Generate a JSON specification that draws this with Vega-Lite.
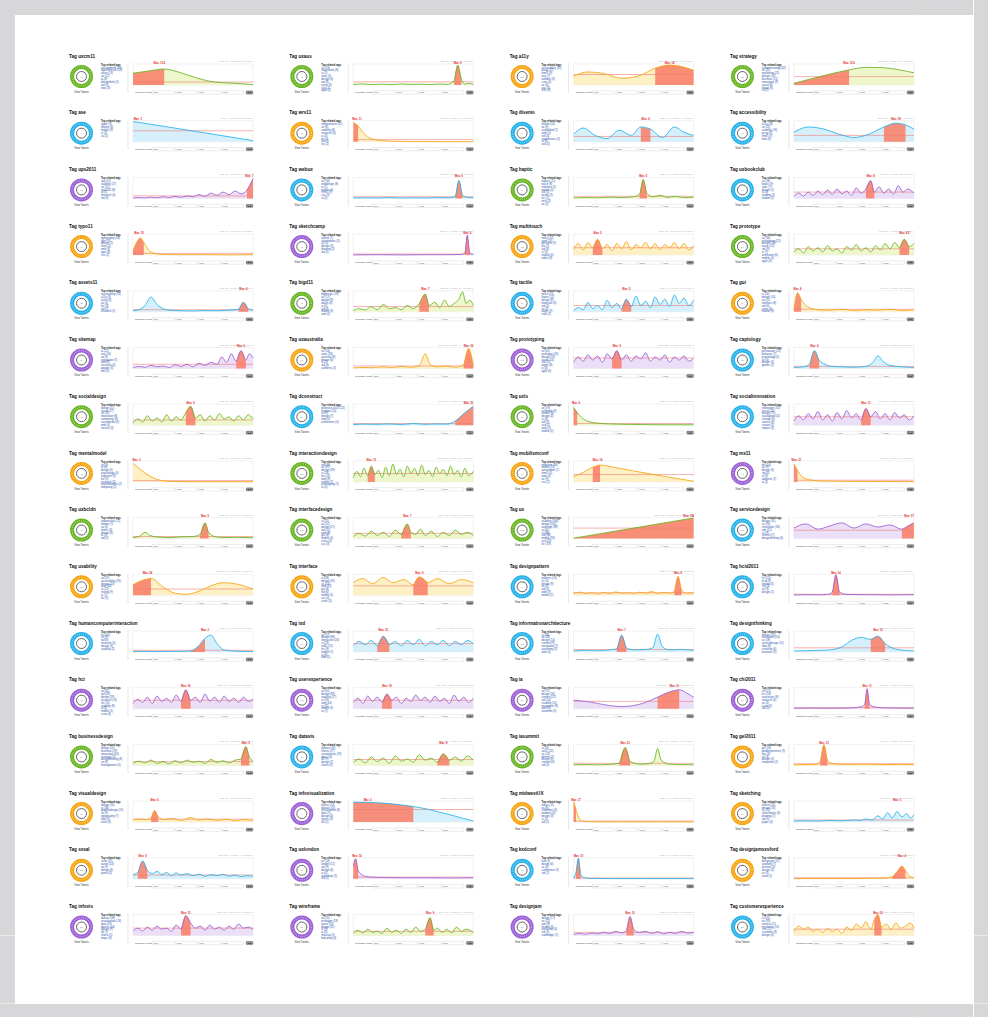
{
"$schema":"https://vega.github.io/schema/vega-lite/v6.json",
"padding":0,
"background":"white",
"config":{"view":{"stroke":null},"concat":{"spacing":0},"font":"Liberation Sans",
 "header":{"labels":false,"title":null,"labelExpr":"''","labelFontSize":0,"labelColor":"rgba(0,0,0,0)","labelPadding":0,"titlePadding":0},
 "headerFacet":{"labels":false,"title":null,"labelExpr":"''","labelFontSize":0,"labelColor":"rgba(0,0,0,0)","labelPadding":0,"titlePadding":0}},
"data":{"name":"one"},
"datasets":{
"one":[{}],
"tags":[
{"t":0,"tag":"uxcm11","d":"g","k":"g","hs":0,"he":26,"px":22,"mx":10.5,"av":14,"tot":63,"rel":["uxcampmelb (26)","hypotheticals (13)","uxcm (13)","ux (12)","ia (8)","designthink (5)","ixd (3)","lean (3)"]},
{"t":1,"tag":"uxaus","d":"g","k":"g","hs":84,"he":90,"px":87,"mx":9,"av":15,"tot":48,"rel":["ux (23)","uxaustralia (8)","ia (5)","uxau (4)","design (4)","ixd (3)","uxcm (3)","ucd (2)","agile (2)"]},
{"t":2,"tag":"a11y","d":"o","k":"o","hs":68,"he":100,"px":80,"mx":14,"av":50,"tot":212,"rel":["accessibility (33)","wcag (12)","html5 (9)","aria (7)","webdev (6)","csun (5)","ux (4)","axs (3)","w3c (3)"]},
{"t":3,"tag":"strategy","d":"g","k":"g","hs":0,"he":46,"px":46,"mx":12.6,"av":40,"tot":388,"rel":["contentstrategy (42)","ux (31)","marketing (22)","design (14)","business (11)","innovation (9)","social (8)","digital (6)","cx (5)"]},
{"t":4,"tag":"ase","d":"b","k":"b","hs":0,"he":0,"px":4,"mx":3,"av":52,"tot":9,"rel":["apple (9)","iphone (4)","mobile (3)","ui (3)","ux (2)"]},
{"t":5,"tag":"wrv11","d":"o","k":"o","hs":0,"he":4,"px":3,"mx":11,"av":10,"tot":27,"rel":["webresearch (12)","ux (8)","usability (6)","research (4)","ia (3)","wr (2)","ixd (2)","hci (2)"]},
{"t":6,"tag":"disenio","d":"b","k":"b","hs":56,"he":64,"px":60,"mx":4,"av":25,"tot":41,"rel":["diseño (14)","ux (9)","usabilidad (7)","web (5)","ixd (4)","arquitectura (3)","ia (3)","ucd (2)"]},
{"t":7,"tag":"accessibility","d":"b","k":"b","hs":75,"he":93,"px":85,"mx":18,"av":30,"tot":402,"rel":["a11y (34)","ux (22)","usability (18)","wcag (9)","html5 (7)","web (6)"]},
{"t":8,"tag":"ups2011","d":"p","k":"p","hs":95,"he":100,"px":97,"mx":7,"av":12,"tot":88,"rel":["upa (21)","usability (17)","ux (12)","upa2011 (8)","ia (5)","research (4)","ixd (3)"]},
{"t":9,"tag":"webux","d":"b","k":"b","hs":85,"he":91,"px":88,"mx":6,"av":8,"tot":31,"rel":["ux (16)","webdesign (8)","ia (5)","mobile (4)","html5 (3)","css (3)","ui (2)"]},
{"t":10,"tag":"haptic","d":"g","k":"g","hs":55,"he":61,"px":58,"mx":5,"av":10,"tot":36,"rel":["haptics (11)","touch (8)","interface (5)","mobile (4)","ixd (3)","tactile (3)","hci (2)","tech (2)","ux (2)"]},
{"t":11,"tag":"uxbookclub","d":"b","k":"p","hs":60,"he":67,"px":64,"mx":8,"av":30,"tot":96,"rel":["ux (28)","books (9)","uxbc (7)","design (5)","ia (4)","reading (3)","london (2)"]},
{"t":12,"tag":"typo11","d":"o","k":"o","hs":0,"he":9,"px":5,"mx":15,"av":8,"tot":54,"rel":["typography (18)","type (9)","design (7)","fonts (5)","web (3)","typo (3)","css (2)"]},
{"t":13,"tag":"sketchcamp","d":"p","k":"p","hs":93,"he":97,"px":95,"mx":6,"av":5,"tot":19,"rel":["sketch (7)","sketchnotes (5)","ux (4)","design (3)","drawing (2)","ixd (2)"]},
{"t":14,"tag":"multitouch","d":"o","k":"o","hs":16,"he":24,"px":20,"mx":5,"av":35,"tot":118,"rel":["touch (22)","ipad (14)","gestures (9)","nui (7)","ixd (6)","ui (5)","mobile (4)","tablet (3)"]},
{"t":15,"tag":"prototype","d":"g","k":"g","hs":88,"he":96,"px":92,"mx":9.5,"av":30,"tot":204,"rel":["ux (34)","prototyping (22)","design (18)","axure (12)","ixd (9)","ui (7)","wireframe (6)","mobile (4)","agile (3)"]},
{"t":16,"tag":"assets11","d":"b","k":"b","hs":88,"he":96,"px":92,"mx":4,"av":10,"tot":22,"rel":["accessibility (14)","a11y (9)","asset (6)","ux (4)","hci (3)","ixd (2)","research (2)"]},
{"t":17,"tag":"bigd11","d":"g","k":"g","hs":55,"he":63,"px":60,"mx":7,"av":25,"tot":73,"rel":["bigdesign (19)","ux (12)","design (9)","dallas (6)","ia (4)","ixd (3)","mobile (3)","web (2)"]},
{"t":18,"tag":"tactile","d":"b","k":"b","hs":40,"he":48,"px":44,"mx":5,"av":30,"tot":61,"rel":["touch (15)","haptic (11)","design (8)","materials (6)","ixd (5)","ux (4)","paper (3)","craft (2)"]},
{"t":19,"tag":"gui","d":"o","k":"o","hs":0,"he":6,"px":3,"mx":8,"av":12,"tot":84,"rel":["ui (26)","design (14)","ux (11)","interface (8)","ixd (6)","icons (4)","mobile (3)"]},
{"t":20,"tag":"sitemap","d":"p","k":"p","hs":86,"he":94,"px":90,"mx":6,"av":20,"tot":57,"rel":["ia (22)","seo (14)","ux (9)","navigation (7)","web (5)","structure (4)","google (3)","xml (2)"]},
{"t":21,"tag":"uxaustralia","d":"o","k":"o","hs":92,"he":100,"px":96,"mx":19,"av":12,"tot":146,"rel":["ux (24)","uxau (18)","australia (8)","design (6)","ia (5)","ixd (4)","canberra (3)"]},
{"t":22,"tag":"prototyping","d":"p","k":"p","hs":32,"he":40,"px":36,"mx":9,"av":50,"tot":233,"rel":["ux (41)","prototype (26)","design (19)","axure (14)","ixd (11)","paper (8)","ui (6)","agile (5)"]},
{"t":23,"tag":"captology","d":"b","k":"b","hs":13,"he":21,"px":17,"mx":4,"av":10,"tot":25,"rel":["persuasion (12)","behavior (7)","psychology (5)","ux (4)","design (3)","games (2)"]},
{"t":24,"tag":"socialdesign","d":"g","k":"g","hs":44,"he":52,"px":48,"mx":6,"av":25,"tot":92,"rel":["design (21)","social (17)","ux (11)","innovation (8)","community (6)","socialmedia (5)","web (4)","service (3)"]},
{"t":25,"tag":"dconstruct","d":"b","k":"b","hs":85,"he":100,"px":96,"mx":22,"av":8,"tot":154,"rel":["dconstruct2011 (22)","brighton (14)","ux (9)","design (7)","web (5)","conference (4)"]},
{"t":26,"tag":"uxls","d":"g","k":"g","hs":0,"he":3,"px":2,"mx":9,"av":8,"tot":38,"rel":["ux (19)","uxlondon (9)","london (6)","design (4)","ia (3)","ixd (3)","ucd (2)","web (2)","mobile (2)"]},
{"t":27,"tag":"socialinnovation","d":"b","k":"p","hs":56,"he":64,"px":60,"mx":11,"av":40,"tot":264,"rel":["innovation (31)","social (24)","design (17)","socialgood (12)","change (8)","service (6)","socent (5)","impact (4)"]},
{"t":28,"tag":"mentalmodel","d":"o","k":"o","hs":0,"he":0,"px":3,"mx":3,"av":6,"tot":12,"rel":["ux (9)","ia (6)","design (5)","psychology (4)","cognition (3)","hci (3)","research (3)","mentalmodels (2)","indiyoung (2)"]},
{"t":29,"tag":"interactiondesign","d":"g","k":"g","hs":12,"he":18,"px":15,"mx":13,"av":40,"tot":512,"rel":["ixd (48)","ux (37)","design (29)","ui (18)","hci (12)","web (9)","mobile (7)","prototyping (5)","ia (4)"]},
{"t":30,"tag":"mobilismconf","d":"o","k":"o","hs":16,"he":22,"px":20,"mx":16,"av":35,"tot":77,"rel":["mobilism (18)","mobile (12)","amsterdam (7)","html5 (5)","web (4)","ux (3)","css (2)"]},
{"t":31,"tag":"mx11","d":"p","k":"o","hs":0,"he":3,"px":2,"mx":12,"av":8,"tot":41,"rel":["mx (14)","ux (9)","design (6)","ixd (4)","sf (3)","adaptive (2)","ia (2)"]},
{"t":32,"tag":"uxbcldn","d":"g","k":"g","hs":56,"he":63,"px":60,"mx":5,"av":10,"tot":29,"rel":["uxbookclub (12)","london (7)","ux (6)","books (4)","design (3)","ia (2)","ixd (2)"]},
{"t":33,"tag":"interfacedesign","d":"g","k":"g","hs":40,"he":48,"px":45,"mx":7,"av":25,"tot":143,"rel":["ui (25)","ux (21)","design (17)","ixd (11)","web (8)","gui (6)","mobile (5)","icons (4)","css (3)"]},
{"t":34,"tag":"ux","d":"g","k":"g","hs":0,"he":100,"px":96,"mx":186,"av":50,"tot":4210,"rel":["usability (186)","design (142)","uxdesign (89)","ia (61)","ui (48)","ixd (38)","mobile (32)","ucd (25)","hci (19)"]},
{"t":35,"tag":"servicedesign","d":"b","k":"p","hs":90,"he":100,"px":96,"mx":17,"av":40,"tot":377,"rel":["design (31)","ux (24)","innovation (18)","sdn (12)","cx (9)","service (7)","designthinking (6)"]},
{"t":36,"tag":"usability","d":"o","k":"o","hs":0,"he":15,"px":12,"mx":24,"av":30,"tot":866,"rel":["ux (67)","accessibility (31)","design (24)","web (18)","ui (12)","testing (9)","ia (7)","hci (5)"]},
{"t":37,"tag":"interface","d":"o","k":"o","hs":50,"he":62,"px":55,"mx":9,"av":45,"tot":198,"rel":["ui (28)","design (19)","ux (14)","web (11)","gui (8)","ixd (6)","mobile (5)","css (4)","icons (3)"]},
{"t":38,"tag":"designpattern","d":"b","k":"o","hs":84,"he":90,"px":87,"mx":8,"av":12,"tot":64,"rel":["patterns (16)","ui (11)","design (9)","ux (7)","ixd (5)","web (3)","mobile (2)"]},
{"t":39,"tag":"hcid2011","d":"b","k":"p","hs":32,"he":38,"px":35,"mx":14,"av":5,"tot":33,"rel":["hci (11)","hcid (8)","london (5)","city (4)","ux (3)","design (2)"]},
{"t":40,"tag":"humancomputerinteraction","d":"b","k":"b","hs":48,"he":60,"px":60,"mx":3,"av":8,"tot":14,"rel":["hci (14)","ux (9)","ixd (6)","research (4)","design (3)","usability (2)"]},
{"t":41,"tag":"ixd","d":"b","k":"b","hs":20,"he":30,"px":25,"mx":15,"av":40,"tot":640,"rel":["ux (57)","design (38)","interaction (24)","ui (19)","ixd11 (12)","hci (9)","mobile (7)","ia (6)","web (5)"]},
{"t":42,"tag":"informationarchitecture","d":"b","k":"b","hs":36,"he":44,"px":40,"mx":7,"av":12,"tot":102,"rel":["ia (36)","ux (28)","design (14)","content (9)","navigation (7)","taxonomy (5)","web (4)"]},
{"t":43,"tag":"designthinking","d":"b","k":"b","hs":64,"he":76,"px":70,"mx":12,"av":20,"tot":241,"rel":["design (33)","innovation (24)","ux (18)","servicedesign (11)","ideo (8)","creativity (6)","business (5)"]},
{"t":44,"tag":"hci","d":"p","k":"p","hs":40,"he":48,"px":44,"mx":16,"av":40,"tot":498,"rel":["ux (42)","ixd (28)","design (19)","research (14)","chi (11)","usability (8)","ui (6)","mobile (5)","cscw (4)"]},
{"t":45,"tag":"userexperience","d":"p","k":"p","hs":24,"he":32,"px":28,"mx":18,"av":40,"tot":702,"rel":["ux (61)","design (39)","usability (27)","ia (19)","web (14)","ui (11)","mobile (9)","cx (7)"]},
{"t":46,"tag":"ia","d":"p","k":"p","hs":70,"he":88,"px":84,"mx":21,"av":35,"tot":913,"rel":["ux (72)","design (34)","content (21)","ixd (14)","usability (11)","navigation (8)","web (6)","iasummit (5)"]},
{"t":47,"tag":"chi2011","d":"p","k":"p","hs":59,"he":63,"px":61,"mx":11,"av":5,"tot":57,"rel":["chi (21)","hci (16)","vancouver (8)","research (6)","ux (4)","cscw (3)","ixd (2)"]},
{"t":48,"tag":"businessdesign","d":"g","k":"g","hs":90,"he":97,"px":94,"mx":6,"av":18,"tot":71,"rel":["design (23)","business (19)","innovation (14)","strategy (11)","designthinking (8)","ux (6)","management (5)"]},
{"t":49,"tag":"datavis","d":"b","k":"g","hs":70,"he":80,"px":75,"mx":8,"av":28,"tot":186,"rel":["dataviz (34)","infovis (27)","visualization (19)","data (14)","d3 (9)","design (7)","charts (5)"]},
{"t":50,"tag":"iasummit","d":"g","k":"g","hs":38,"he":47,"px":43,"mx":21,"av":10,"tot":129,"rel":["ia (31)","ias11 (24)","ux (14)","denver (7)","design (5)","content (4)","ixd (3)"]},
{"t":51,"tag":"gel2011","d":"o","k":"o","hs":22,"he":28,"px":25,"mx":13,"av":8,"tot":46,"rel":["gel (18)","goodexperience (9)","nyc (6)","ux (4)","design (3)","innovation (2)"]},
{"t":52,"tag":"visualdesign","d":"o","k":"o","hs":15,"he":21,"px":18,"mx":6,"av":14,"tot":83,"rel":["design (26)","ui (18)","graphicdesign (12)","ux (9)","typography (7)","web (5)","color (4)"]},
{"t":53,"tag":"infovisualization","d":"p","k":"b","hs":0,"he":50,"px":12,"mx":2,"av":60,"tot":6,"rel":["infovis (14)","dataviz (11)","visualization (8)","data (5)","design (4)","charts (3)","d3 (2)"]},
{"t":54,"tag":"midwestUX","d":"o","k":"o","hs":0,"he":2,"px":2,"mx":17,"av":5,"tot":39,"rel":["mwux (11)","ux (8)","columbus (5)","midwest (4)","design (3)","ia (2)","ixd (2)"]},
{"t":55,"tag":"sketching","d":"o","k":"b","hs":0,"he":0,"px":86,"mx":5,"av":10,"tot":92,"rel":["sketch (24)","design (16)","ux (12)","sketchnotes (9)","drawing (7)","ixd (5)","paper (4)"]},
{"t":56,"tag":"sxsal","d":"o","k":"b","hs":4,"he":12,"px":8,"mx":9,"av":18,"tot":121,"rel":["sxsw (22)","austin (14)","ux (9)","design (6)","panel (4)"]},
{"t":57,"tag":"uxlondon","d":"p","k":"p","hs":0,"he":4,"px":3,"mx":14,"av":8,"tot":66,"rel":["ux (18)","london (12)","uxl (9)","design (6)","ia (4)","workshop (3)","ixd (2)"]},
{"t":58,"tag":"kxdconf","d":"b","k":"b","hs":2,"he":6,"px":4,"mx":10,"av":4,"tot":24,"rel":["kxd (9)","design (6)","ux (4)","conference (3)","ixd (2)"]},
{"t":59,"tag":"designjamsxsford","d":"o","k":"o","hs":82,"he":93,"px":90,"mx":4,"av":5,"tot":15,"rel":["designjam (11)","stanford (7)","dschool (5)","design (4)","ux (3)","sxsw (2)"]},
{"t":60,"tag":"infovis","d":"p","k":"p","hs":40,"he":48,"px":44,"mx":13,"av":35,"tot":318,"rel":["dataviz (38)","visualization (26)","data (19)","datavis (14)","design (9)","d3 (7)","charts (5)","maps (4)"]},
{"t":61,"tag":"wireframe","d":"p","k":"g","hs":60,"he":67,"px":64,"mx":9,"av":20,"tot":176,"rel":["ux (31)","prototype (19)","axure (14)","design (11)","ui (8)","ia (6)","mockup (5)","balsamiq (4)"]},
{"t":62,"tag":"designjam","d":"p","k":"p","hs":44,"he":50,"px":47,"mx":10,"av":15,"tot":58,"rel":["design (17)","ux (12)","jam (8)","london (6)","workshop (4)","ixd (3)","cambridge (2)"]},
{"t":63,"tag":"customerexperience","d":"b","k":"o","hs":67,"he":73,"px":70,"mx":12,"av":30,"tot":287,"rel":["cx (41)","ux (33)","service (21)","marketing (15)","crm (11)","customer (8)","design (6)"]}
],
"s":[
{"t":0,"x":0,"v":56},{"t":0,"x":12,"v":66},{"t":0,"x":26,"v":76},{"t":0,"x":40,"v":58},{"t":0,"x":55,"v":30},{"t":0,"x":68,"v":14},{"t":0,"x":85,"v":8},{"t":0,"x":100,"v":2},
{"t":1,"x":0,"v":3},{"t":1,"x":8,"v":5},{"t":1,"x":16,"v":2},{"t":1,"x":24,"v":4},{"t":1,"x":32,"v":2},{"t":1,"x":40,"v":5},{"t":1,"x":48,"v":3},{"t":1,"x":56,"v":4},{"t":1,"x":64,"v":2},{"t":1,"x":72,"v":5},{"t":1,"x":78,"v":3},{"t":1,"x":84,"v":20},{"t":1,"x":87,"v":95},{"t":1,"x":90,"v":30},{"t":1,"x":93,"v":4},{"t":1,"x":96,"v":8},{"t":1,"x":100,"v":3},
{"t":2,"x":0,"v":42},{"t":2,"x":12,"v":62},{"t":2,"x":25,"v":55},{"t":2,"x":40,"v":32},{"t":2,"x":55,"v":45},{"t":2,"x":68,"v":80},{"t":2,"x":80,"v":95},{"t":2,"x":90,"v":88},{"t":2,"x":100,"v":70},
{"t":3,"x":0,"v":8},{"t":3,"x":15,"v":30},{"t":3,"x":30,"v":52},{"t":3,"x":46,"v":72},{"t":3,"x":60,"v":84},{"t":3,"x":75,"v":82},{"t":3,"x":88,"v":72},{"t":3,"x":100,"v":58},
{"t":4,"x":0,"v":96},{"t":4,"x":25,"v":74},{"t":4,"x":50,"v":51},{"t":4,"x":75,"v":28},{"t":4,"x":100,"v":5},
{"t":5,"x":0,"v":92},{"t":5,"x":4,"v":75},{"t":5,"x":8,"v":45},{"t":5,"x":13,"v":20},{"t":5,"x":20,"v":8},{"t":5,"x":30,"v":3},{"t":5,"x":50,"v":1},{"t":5,"x":75,"v":0},{"t":5,"x":100,"v":0},
{"t":6,"x":0,"v":35},{"t":6,"x":8,"v":65},{"t":6,"x":18,"v":30},{"t":6,"x":28,"v":15},{"t":6,"x":38,"v":55},{"t":6,"x":48,"v":30},{"t":6,"x":56,"v":70},{"t":6,"x":64,"v":60},{"t":6,"x":74,"v":20},{"t":6,"x":84,"v":70},{"t":6,"x":92,"v":45},{"t":6,"x":100,"v":30},
{"t":7,"x":0,"v":45},{"t":7,"x":12,"v":70},{"t":7,"x":25,"v":60},{"t":7,"x":38,"v":35},{"t":7,"x":50,"v":20},{"t":7,"x":62,"v":35},{"t":7,"x":75,"v":70},{"t":7,"x":85,"v":88},{"t":7,"x":93,"v":80},{"t":7,"x":100,"v":60},
{"t":8,"x":0,"v":2},{"t":8,"x":5,"v":4},{"t":8,"x":10,"v":2},{"t":8,"x":15,"v":6},{"t":8,"x":20,"v":3},{"t":8,"x":25,"v":8},{"t":8,"x":30,"v":4},{"t":8,"x":35,"v":10},{"t":8,"x":40,"v":5},{"t":8,"x":45,"v":12},{"t":8,"x":50,"v":8},{"t":8,"x":55,"v":18},{"t":8,"x":60,"v":10},{"t":8,"x":65,"v":25},{"t":8,"x":70,"v":15},{"t":8,"x":75,"v":30},{"t":8,"x":80,"v":18},{"t":8,"x":85,"v":35},{"t":8,"x":90,"v":22},{"t":8,"x":95,"v":40},{"t":8,"x":100,"v":95},
{"t":9,"x":0,"v":2},{"t":9,"x":10,"v":3},{"t":9,"x":20,"v":2},{"t":9,"x":30,"v":4},{"t":9,"x":40,"v":2},{"t":9,"x":50,"v":3},{"t":9,"x":60,"v":2},{"t":9,"x":70,"v":4},{"t":9,"x":80,"v":3},{"t":9,"x":85,"v":10},{"t":9,"x":88,"v":85},{"t":9,"x":91,"v":15},{"t":9,"x":95,"v":5},{"t":9,"x":100,"v":3},
{"t":10,"x":0,"v":2},{"t":10,"x":10,"v":4},{"t":10,"x":20,"v":3},{"t":10,"x":30,"v":6},{"t":10,"x":40,"v":4},{"t":10,"x":50,"v":8},{"t":10,"x":55,"v":20},{"t":10,"x":58,"v":90},{"t":10,"x":61,"v":25},{"t":10,"x":66,"v":8},{"t":10,"x":72,"v":15},{"t":10,"x":78,"v":5},{"t":10,"x":85,"v":10},{"t":10,"x":92,"v":4},{"t":10,"x":100,"v":6},
{"t":11,"x":0,"v":10},{"t":11,"x":4,"v":25},{"t":11,"x":8,"v":12},{"t":11,"x":12,"v":30},{"t":11,"x":16,"v":15},{"t":11,"x":20,"v":35},{"t":11,"x":24,"v":18},{"t":11,"x":28,"v":40},{"t":11,"x":32,"v":20},{"t":11,"x":36,"v":45},{"t":11,"x":40,"v":22},{"t":11,"x":44,"v":35},{"t":11,"x":48,"v":15},{"t":11,"x":52,"v":50},{"t":11,"x":56,"v":25},{"t":11,"x":60,"v":45},{"t":11,"x":64,"v":85},{"t":11,"x":67,"v":30},{"t":11,"x":71,"v":55},{"t":11,"x":75,"v":25},{"t":11,"x":79,"v":45},{"t":11,"x":83,"v":20},{"t":11,"x":87,"v":60},{"t":11,"x":91,"v":30},{"t":11,"x":95,"v":45},{"t":11,"x":100,"v":25},
{"t":12,"x":0,"v":20},{"t":12,"x":3,"v":60},{"t":12,"x":6,"v":82},{"t":12,"x":9,"v":60},{"t":12,"x":13,"v":25},{"t":12,"x":18,"v":8},{"t":12,"x":25,"v":3},{"t":12,"x":40,"v":2},{"t":12,"x":60,"v":2},{"t":12,"x":80,"v":1},{"t":12,"x":100,"v":2},
{"t":13,"x":0,"v":1},{"t":13,"x":20,"v":2},{"t":13,"x":40,"v":1},{"t":13,"x":60,"v":2},{"t":13,"x":80,"v":2},{"t":13,"x":90,"v":3},{"t":13,"x":93,"v":10},{"t":13,"x":95,"v":95},{"t":13,"x":97,"v":10},{"t":13,"x":100,"v":3},
{"t":14,"x":0,"v":30},{"t":14,"x":4,"v":55},{"t":14,"x":8,"v":25},{"t":14,"x":12,"v":60},{"t":14,"x":16,"v":35},{"t":14,"x":20,"v":75},{"t":14,"x":24,"v":30},{"t":14,"x":28,"v":50},{"t":14,"x":32,"v":20},{"t":14,"x":36,"v":55},{"t":14,"x":40,"v":30},{"t":14,"x":44,"v":65},{"t":14,"x":48,"v":25},{"t":14,"x":52,"v":50},{"t":14,"x":56,"v":35},{"t":14,"x":60,"v":60},{"t":14,"x":64,"v":30},{"t":14,"x":68,"v":55},{"t":14,"x":72,"v":25},{"t":14,"x":76,"v":50},{"t":14,"x":80,"v":35},{"t":14,"x":84,"v":60},{"t":14,"x":88,"v":30},{"t":14,"x":92,"v":55},{"t":14,"x":96,"v":25},{"t":14,"x":100,"v":45},
{"t":15,"x":0,"v":15},{"t":15,"x":4,"v":30},{"t":15,"x":8,"v":10},{"t":15,"x":12,"v":40},{"t":15,"x":16,"v":20},{"t":15,"x":20,"v":35},{"t":15,"x":24,"v":15},{"t":15,"x":28,"v":45},{"t":15,"x":32,"v":20},{"t":15,"x":36,"v":30},{"t":15,"x":40,"v":10},{"t":15,"x":44,"v":40},{"t":15,"x":48,"v":25},{"t":15,"x":52,"v":50},{"t":15,"x":56,"v":20},{"t":15,"x":60,"v":35},{"t":15,"x":64,"v":15},{"t":15,"x":68,"v":45},{"t":15,"x":72,"v":25},{"t":15,"x":76,"v":55},{"t":15,"x":80,"v":30},{"t":15,"x":84,"v":60},{"t":15,"x":88,"v":35},{"t":15,"x":92,"v":75},{"t":15,"x":96,"v":40},{"t":15,"x":100,"v":55},
{"t":16,"x":0,"v":5},{"t":16,"x":5,"v":10},{"t":16,"x":10,"v":30},{"t":16,"x":15,"v":70},{"t":16,"x":20,"v":35},{"t":16,"x":25,"v":15},{"t":16,"x":30,"v":8},{"t":16,"x":40,"v":5},{"t":16,"x":50,"v":4},{"t":16,"x":60,"v":6},{"t":16,"x":70,"v":5},{"t":16,"x":80,"v":8},{"t":16,"x":88,"v":12},{"t":16,"x":92,"v":45},{"t":16,"x":96,"v":15},{"t":16,"x":100,"v":8},
{"t":17,"x":0,"v":5},{"t":17,"x":5,"v":15},{"t":17,"x":10,"v":8},{"t":17,"x":15,"v":25},{"t":17,"x":20,"v":10},{"t":17,"x":25,"v":35},{"t":17,"x":30,"v":15},{"t":17,"x":35,"v":20},{"t":17,"x":40,"v":10},{"t":17,"x":45,"v":30},{"t":17,"x":50,"v":15},{"t":17,"x":55,"v":40},{"t":17,"x":60,"v":85},{"t":17,"x":63,"v":30},{"t":17,"x":68,"v":45},{"t":17,"x":72,"v":20},{"t":17,"x":76,"v":55},{"t":17,"x":80,"v":25},{"t":17,"x":84,"v":40},{"t":17,"x":88,"v":60},{"t":17,"x":91,"v":95},{"t":17,"x":94,"v":40},{"t":17,"x":97,"v":55},{"t":17,"x":100,"v":30},
{"t":18,"x":0,"v":5},{"t":18,"x":4,"v":20},{"t":18,"x":8,"v":10},{"t":18,"x":12,"v":45},{"t":18,"x":16,"v":15},{"t":18,"x":20,"v":30},{"t":18,"x":24,"v":10},{"t":18,"x":28,"v":55},{"t":18,"x":32,"v":20},{"t":18,"x":36,"v":40},{"t":18,"x":40,"v":15},{"t":18,"x":44,"v":60},{"t":18,"x":48,"v":25},{"t":18,"x":52,"v":75},{"t":18,"x":56,"v":30},{"t":18,"x":60,"v":50},{"t":18,"x":64,"v":20},{"t":18,"x":68,"v":70},{"t":18,"x":72,"v":35},{"t":18,"x":76,"v":60},{"t":18,"x":80,"v":25},{"t":18,"x":84,"v":80},{"t":18,"x":88,"v":40},{"t":18,"x":92,"v":65},{"t":18,"x":96,"v":30},{"t":18,"x":100,"v":55},
{"t":19,"x":0,"v":10},{"t":19,"x":3,"v":90},{"t":19,"x":6,"v":60},{"t":19,"x":10,"v":30},{"t":19,"x":15,"v":15},{"t":19,"x":20,"v":10},{"t":19,"x":30,"v":8},{"t":19,"x":40,"v":12},{"t":19,"x":50,"v":6},{"t":19,"x":60,"v":10},{"t":19,"x":70,"v":8},{"t":19,"x":80,"v":12},{"t":19,"x":90,"v":6},{"t":19,"x":100,"v":10},
{"t":20,"x":0,"v":5},{"t":20,"x":5,"v":10},{"t":20,"x":10,"v":6},{"t":20,"x":15,"v":15},{"t":20,"x":20,"v":8},{"t":20,"x":25,"v":12},{"t":20,"x":30,"v":5},{"t":20,"x":35,"v":18},{"t":20,"x":40,"v":10},{"t":20,"x":45,"v":20},{"t":20,"x":50,"v":8},{"t":20,"x":55,"v":25},{"t":20,"x":60,"v":15},{"t":20,"x":65,"v":30},{"t":20,"x":70,"v":20},{"t":20,"x":74,"v":55},{"t":20,"x":78,"v":30},{"t":20,"x":82,"v":70},{"t":20,"x":86,"v":35},{"t":20,"x":90,"v":85},{"t":20,"x":94,"v":40},{"t":20,"x":97,"v":70},{"t":20,"x":100,"v":50},
{"t":21,"x":0,"v":3},{"t":21,"x":8,"v":5},{"t":21,"x":16,"v":4},{"t":21,"x":24,"v":8},{"t":21,"x":32,"v":4},{"t":21,"x":40,"v":10},{"t":21,"x":48,"v":6},{"t":21,"x":55,"v":15},{"t":21,"x":60,"v":70},{"t":21,"x":64,"v":20},{"t":21,"x":70,"v":8},{"t":21,"x":78,"v":12},{"t":21,"x":85,"v":6},{"t":21,"x":92,"v":20},{"t":21,"x":96,"v":95},{"t":21,"x":100,"v":15},
{"t":22,"x":0,"v":30},{"t":22,"x":4,"v":55},{"t":22,"x":8,"v":35},{"t":22,"x":12,"v":65},{"t":22,"x":16,"v":40},{"t":22,"x":20,"v":60},{"t":22,"x":24,"v":30},{"t":22,"x":28,"v":70},{"t":22,"x":32,"v":45},{"t":22,"x":36,"v":85},{"t":22,"x":40,"v":40},{"t":22,"x":44,"v":65},{"t":22,"x":48,"v":35},{"t":22,"x":52,"v":60},{"t":22,"x":56,"v":45},{"t":22,"x":60,"v":75},{"t":22,"x":64,"v":35},{"t":22,"x":68,"v":55},{"t":22,"x":72,"v":40},{"t":22,"x":76,"v":65},{"t":22,"x":80,"v":30},{"t":22,"x":84,"v":55},{"t":22,"x":88,"v":40},{"t":22,"x":92,"v":60},{"t":22,"x":96,"v":35},{"t":22,"x":100,"v":50},
{"t":23,"x":0,"v":5},{"t":23,"x":8,"v":8},{"t":23,"x":13,"v":20},{"t":23,"x":17,"v":85},{"t":23,"x":21,"v":40},{"t":23,"x":26,"v":20},{"t":23,"x":32,"v":10},{"t":23,"x":40,"v":8},{"t":23,"x":50,"v":6},{"t":23,"x":60,"v":10},{"t":23,"x":66,"v":30},{"t":23,"x":70,"v":60},{"t":23,"x":74,"v":35},{"t":23,"x":80,"v":15},{"t":23,"x":90,"v":8},{"t":23,"x":100,"v":5},
{"t":24,"x":0,"v":10},{"t":24,"x":4,"v":30},{"t":24,"x":8,"v":15},{"t":24,"x":12,"v":45},{"t":24,"x":16,"v":20},{"t":24,"x":20,"v":35},{"t":24,"x":24,"v":15},{"t":24,"x":28,"v":50},{"t":24,"x":32,"v":20},{"t":24,"x":36,"v":40},{"t":24,"x":40,"v":25},{"t":24,"x":44,"v":60},{"t":24,"x":48,"v":90},{"t":24,"x":52,"v":35},{"t":24,"x":56,"v":50},{"t":24,"x":60,"v":20},{"t":24,"x":64,"v":45},{"t":24,"x":68,"v":25},{"t":24,"x":72,"v":55},{"t":24,"x":76,"v":30},{"t":24,"x":80,"v":40},{"t":24,"x":84,"v":20},{"t":24,"x":88,"v":45},{"t":24,"x":92,"v":25},{"t":24,"x":96,"v":50},{"t":24,"x":100,"v":30},
{"t":25,"x":0,"v":3},{"t":25,"x":10,"v":5},{"t":25,"x":20,"v":4},{"t":25,"x":30,"v":6},{"t":25,"x":40,"v":3},{"t":25,"x":50,"v":8},{"t":25,"x":60,"v":4},{"t":25,"x":70,"v":6},{"t":25,"x":78,"v":5},{"t":25,"x":85,"v":20},{"t":25,"x":92,"v":55},{"t":25,"x":100,"v":90},
{"t":26,"x":0,"v":85},{"t":26,"x":3,"v":60},{"t":26,"x":7,"v":35},{"t":26,"x":12,"v":18},{"t":26,"x":20,"v":10},{"t":26,"x":30,"v":6},{"t":26,"x":45,"v":4},{"t":26,"x":60,"v":3},{"t":26,"x":80,"v":2},{"t":26,"x":100,"v":2},
{"t":27,"x":0,"v":20},{"t":27,"x":4,"v":45},{"t":27,"x":8,"v":25},{"t":27,"x":12,"v":55},{"t":27,"x":16,"v":30},{"t":27,"x":20,"v":65},{"t":27,"x":24,"v":25},{"t":27,"x":28,"v":50},{"t":27,"x":32,"v":20},{"t":27,"x":36,"v":60},{"t":27,"x":40,"v":30},{"t":27,"x":44,"v":70},{"t":27,"x":48,"v":35},{"t":27,"x":52,"v":55},{"t":27,"x":56,"v":25},{"t":27,"x":60,"v":80},{"t":27,"x":64,"v":40},{"t":27,"x":68,"v":65},{"t":27,"x":72,"v":30},{"t":27,"x":76,"v":55},{"t":27,"x":80,"v":25},{"t":27,"x":84,"v":60},{"t":27,"x":88,"v":35},{"t":27,"x":92,"v":50},{"t":27,"x":96,"v":25},{"t":27,"x":100,"v":45},
{"t":28,"x":0,"v":88},{"t":28,"x":5,"v":65},{"t":28,"x":10,"v":42},{"t":28,"x":15,"v":25},{"t":28,"x":20,"v":12},{"t":28,"x":26,"v":5},{"t":28,"x":32,"v":2},{"t":28,"x":50,"v":1},{"t":28,"x":75,"v":1},{"t":28,"x":100,"v":1},
{"t":29,"x":0,"v":20},{"t":29,"x":3,"v":50},{"t":29,"x":6,"v":25},{"t":29,"x":9,"v":65},{"t":29,"x":12,"v":30},{"t":29,"x":15,"v":75},{"t":29,"x":18,"v":35},{"t":29,"x":21,"v":55},{"t":29,"x":24,"v":20},{"t":29,"x":27,"v":70},{"t":29,"x":30,"v":30},{"t":29,"x":33,"v":85},{"t":29,"x":36,"v":35},{"t":29,"x":39,"v":60},{"t":29,"x":42,"v":25},{"t":29,"x":45,"v":75},{"t":29,"x":48,"v":40},{"t":29,"x":51,"v":65},{"t":29,"x":54,"v":30},{"t":29,"x":57,"v":80},{"t":29,"x":60,"v":35},{"t":29,"x":63,"v":55},{"t":29,"x":66,"v":25},{"t":29,"x":69,"v":70},{"t":29,"x":72,"v":40},{"t":29,"x":75,"v":60},{"t":29,"x":78,"v":30},{"t":29,"x":81,"v":75},{"t":29,"x":84,"v":35},{"t":29,"x":87,"v":55},{"t":29,"x":90,"v":25},{"t":29,"x":93,"v":65},{"t":29,"x":96,"v":30},{"t":29,"x":100,"v":50},
{"t":30,"x":0,"v":25},{"t":30,"x":8,"v":45},{"t":30,"x":16,"v":70},{"t":30,"x":22,"v":80},{"t":30,"x":35,"v":68},{"t":30,"x":50,"v":52},{"t":30,"x":65,"v":37},{"t":30,"x":80,"v":22},{"t":30,"x":100,"v":3},
{"t":31,"x":0,"v":85},{"t":31,"x":3,"v":55},{"t":31,"x":6,"v":30},{"t":31,"x":10,"v":15},{"t":31,"x":15,"v":8},{"t":31,"x":25,"v":4},{"t":31,"x":40,"v":3},{"t":31,"x":60,"v":2},{"t":31,"x":80,"v":2},{"t":31,"x":100,"v":1},
{"t":32,"x":0,"v":5},{"t":32,"x":5,"v":10},{"t":32,"x":10,"v":30},{"t":32,"x":14,"v":15},{"t":32,"x":20,"v":8},{"t":32,"x":30,"v":5},{"t":32,"x":40,"v":8},{"t":32,"x":50,"v":10},{"t":32,"x":56,"v":20},{"t":32,"x":60,"v":75},{"t":32,"x":63,"v":30},{"t":32,"x":68,"v":10},{"t":32,"x":75,"v":5},{"t":32,"x":85,"v":6},{"t":32,"x":100,"v":4},
{"t":33,"x":0,"v":10},{"t":33,"x":5,"v":25},{"t":33,"x":10,"v":12},{"t":33,"x":15,"v":35},{"t":33,"x":20,"v":15},{"t":33,"x":25,"v":30},{"t":33,"x":30,"v":10},{"t":33,"x":35,"v":40},{"t":33,"x":40,"v":20},{"t":33,"x":45,"v":70},{"t":33,"x":48,"v":30},{"t":33,"x":52,"v":20},{"t":33,"x":56,"v":45},{"t":33,"x":60,"v":15},{"t":33,"x":65,"v":35},{"t":33,"x":70,"v":10},{"t":33,"x":75,"v":30},{"t":33,"x":80,"v":15},{"t":33,"x":85,"v":40},{"t":33,"x":90,"v":20},{"t":33,"x":95,"v":30},{"t":33,"x":100,"v":15},
{"t":34,"x":0,"v":2},{"t":34,"x":25,"v":26},{"t":34,"x":50,"v":50},{"t":34,"x":75,"v":74},{"t":34,"x":100,"v":98},
{"t":35,"x":0,"v":50},{"t":35,"x":10,"v":70},{"t":35,"x":20,"v":45},{"t":35,"x":30,"v":60},{"t":35,"x":40,"v":75},{"t":35,"x":50,"v":50},{"t":35,"x":60,"v":70},{"t":35,"x":70,"v":55},{"t":35,"x":80,"v":65},{"t":35,"x":90,"v":45},{"t":35,"x":95,"v":60},{"t":35,"x":100,"v":75},
{"t":36,"x":0,"v":50},{"t":36,"x":8,"v":72},{"t":36,"x":15,"v":80},{"t":36,"x":25,"v":40},{"t":36,"x":35,"v":10},{"t":36,"x":45,"v":5},{"t":36,"x":55,"v":20},{"t":36,"x":65,"v":45},{"t":36,"x":75,"v":60},{"t":36,"x":85,"v":55},{"t":36,"x":100,"v":30},
{"t":37,"x":0,"v":60},{"t":37,"x":8,"v":80},{"t":37,"x":16,"v":55},{"t":37,"x":25,"v":85},{"t":37,"x":33,"v":60},{"t":37,"x":42,"v":75},{"t":37,"x":50,"v":50},{"t":37,"x":55,"v":88},{"t":37,"x":62,"v":60},{"t":37,"x":70,"v":80},{"t":37,"x":80,"v":55},{"t":37,"x":90,"v":75},{"t":37,"x":100,"v":60},
{"t":38,"x":0,"v":10},{"t":38,"x":5,"v":15},{"t":38,"x":10,"v":8},{"t":38,"x":15,"v":12},{"t":38,"x":20,"v":6},{"t":38,"x":25,"v":14},{"t":38,"x":30,"v":8},{"t":38,"x":35,"v":16},{"t":38,"x":40,"v":10},{"t":38,"x":45,"v":12},{"t":38,"x":50,"v":8},{"t":38,"x":55,"v":15},{"t":38,"x":60,"v":10},{"t":38,"x":65,"v":18},{"t":38,"x":70,"v":8},{"t":38,"x":75,"v":14},{"t":38,"x":80,"v":10},{"t":38,"x":84,"v":20},{"t":38,"x":87,"v":90},{"t":38,"x":90,"v":25},{"t":38,"x":94,"v":10},{"t":38,"x":100,"v":12},
{"t":39,"x":0,"v":2},{"t":39,"x":10,"v":3},{"t":39,"x":20,"v":2},{"t":39,"x":28,"v":4},{"t":39,"x":32,"v":15},{"t":39,"x":35,"v":98},{"t":39,"x":38,"v":15},{"t":39,"x":45,"v":4},{"t":39,"x":60,"v":3},{"t":39,"x":80,"v":2},{"t":39,"x":100,"v":3},
{"t":40,"x":0,"v":2},{"t":40,"x":10,"v":3},{"t":40,"x":20,"v":2},{"t":40,"x":30,"v":3},{"t":40,"x":40,"v":3},{"t":40,"x":48,"v":5},{"t":40,"x":54,"v":25},{"t":40,"x":60,"v":65},{"t":40,"x":65,"v":80},{"t":40,"x":70,"v":40},{"t":40,"x":76,"v":10},{"t":40,"x":85,"v":4},{"t":40,"x":100,"v":2},
{"t":41,"x":0,"v":30},{"t":41,"x":5,"v":50},{"t":41,"x":10,"v":35},{"t":41,"x":15,"v":55},{"t":41,"x":20,"v":30},{"t":41,"x":25,"v":75},{"t":41,"x":30,"v":35},{"t":41,"x":35,"v":50},{"t":41,"x":40,"v":30},{"t":41,"x":45,"v":55},{"t":41,"x":50,"v":35},{"t":41,"x":55,"v":60},{"t":41,"x":60,"v":30},{"t":41,"x":65,"v":50},{"t":41,"x":70,"v":35},{"t":41,"x":75,"v":55},{"t":41,"x":80,"v":30},{"t":41,"x":85,"v":50},{"t":41,"x":90,"v":35},{"t":41,"x":95,"v":55},{"t":41,"x":100,"v":40},
{"t":42,"x":0,"v":5},{"t":42,"x":10,"v":8},{"t":42,"x":20,"v":6},{"t":42,"x":30,"v":10},{"t":42,"x":36,"v":15},{"t":42,"x":40,"v":80},{"t":42,"x":44,"v":20},{"t":42,"x":50,"v":10},{"t":42,"x":60,"v":12},{"t":42,"x":66,"v":20},{"t":42,"x":70,"v":85},{"t":42,"x":74,"v":25},{"t":42,"x":80,"v":10},{"t":42,"x":90,"v":12},{"t":42,"x":100,"v":8},
{"t":43,"x":0,"v":5},{"t":43,"x":10,"v":6},{"t":43,"x":20,"v":8},{"t":43,"x":30,"v":10},{"t":43,"x":40,"v":25},{"t":43,"x":48,"v":55},{"t":43,"x":56,"v":70},{"t":43,"x":64,"v":60},{"t":43,"x":70,"v":75},{"t":43,"x":76,"v":40},{"t":43,"x":84,"v":15},{"t":43,"x":92,"v":8},{"t":43,"x":100,"v":5},
{"t":44,"x":0,"v":25},{"t":44,"x":4,"v":45},{"t":44,"x":8,"v":30},{"t":44,"x":12,"v":55},{"t":44,"x":16,"v":25},{"t":44,"x":20,"v":60},{"t":44,"x":24,"v":35},{"t":44,"x":28,"v":50},{"t":44,"x":32,"v":30},{"t":44,"x":36,"v":65},{"t":44,"x":40,"v":35},{"t":44,"x":44,"v":90},{"t":44,"x":48,"v":40},{"t":44,"x":52,"v":55},{"t":44,"x":56,"v":30},{"t":44,"x":60,"v":70},{"t":44,"x":64,"v":35},{"t":44,"x":68,"v":55},{"t":44,"x":72,"v":30},{"t":44,"x":76,"v":60},{"t":44,"x":80,"v":35},{"t":44,"x":84,"v":50},{"t":44,"x":88,"v":30},{"t":44,"x":92,"v":55},{"t":44,"x":96,"v":35},{"t":44,"x":100,"v":45},
{"t":45,"x":0,"v":30},{"t":45,"x":4,"v":50},{"t":45,"x":8,"v":25},{"t":45,"x":12,"v":60},{"t":45,"x":16,"v":35},{"t":45,"x":20,"v":55},{"t":45,"x":24,"v":30},{"t":45,"x":28,"v":70},{"t":45,"x":32,"v":40},{"t":45,"x":36,"v":55},{"t":45,"x":40,"v":25},{"t":45,"x":44,"v":50},{"t":45,"x":48,"v":35},{"t":45,"x":52,"v":65},{"t":45,"x":56,"v":40},{"t":45,"x":60,"v":55},{"t":45,"x":64,"v":30},{"t":45,"x":68,"v":60},{"t":45,"x":72,"v":35},{"t":45,"x":76,"v":50},{"t":45,"x":80,"v":25},{"t":45,"x":84,"v":65},{"t":45,"x":88,"v":35},{"t":45,"x":92,"v":55},{"t":45,"x":96,"v":30},{"t":45,"x":100,"v":50},
{"t":46,"x":0,"v":40},{"t":46,"x":10,"v":35},{"t":46,"x":20,"v":25},{"t":46,"x":30,"v":15},{"t":46,"x":40,"v":10},{"t":46,"x":50,"v":15},{"t":46,"x":60,"v":30},{"t":46,"x":70,"v":55},{"t":46,"x":80,"v":80},{"t":46,"x":88,"v":90},{"t":46,"x":94,"v":75},{"t":46,"x":100,"v":55},
{"t":47,"x":0,"v":2},{"t":47,"x":15,"v":3},{"t":47,"x":30,"v":2},{"t":47,"x":45,"v":3},{"t":47,"x":55,"v":8},{"t":47,"x":59,"v":20},{"t":47,"x":61,"v":95},{"t":47,"x":63,"v":20},{"t":47,"x":68,"v":8},{"t":47,"x":75,"v":4},{"t":47,"x":85,"v":3},{"t":47,"x":100,"v":2},
{"t":48,"x":0,"v":10},{"t":48,"x":5,"v":20},{"t":48,"x":10,"v":12},{"t":48,"x":15,"v":25},{"t":48,"x":20,"v":10},{"t":48,"x":25,"v":18},{"t":48,"x":30,"v":8},{"t":48,"x":35,"v":22},{"t":48,"x":40,"v":12},{"t":48,"x":45,"v":25},{"t":48,"x":50,"v":15},{"t":48,"x":55,"v":20},{"t":48,"x":60,"v":10},{"t":48,"x":65,"v":28},{"t":48,"x":70,"v":15},{"t":48,"x":75,"v":22},{"t":48,"x":80,"v":12},{"t":48,"x":85,"v":25},{"t":48,"x":90,"v":30},{"t":48,"x":94,"v":90},{"t":48,"x":97,"v":40},{"t":48,"x":100,"v":20},
{"t":49,"x":0,"v":15},{"t":49,"x":5,"v":30},{"t":49,"x":10,"v":12},{"t":49,"x":15,"v":40},{"t":49,"x":20,"v":18},{"t":49,"x":25,"v":35},{"t":49,"x":30,"v":10},{"t":49,"x":35,"v":45},{"t":49,"x":40,"v":20},{"t":49,"x":45,"v":30},{"t":49,"x":50,"v":15},{"t":49,"x":55,"v":50},{"t":49,"x":60,"v":25},{"t":49,"x":65,"v":35},{"t":49,"x":70,"v":15},{"t":49,"x":75,"v":55},{"t":49,"x":80,"v":25},{"t":49,"x":85,"v":40},{"t":49,"x":90,"v":20},{"t":49,"x":95,"v":45},{"t":49,"x":100,"v":25},
{"t":50,"x":0,"v":3},{"t":50,"x":10,"v":4},{"t":50,"x":20,"v":3},{"t":50,"x":30,"v":5},{"t":50,"x":38,"v":10},{"t":50,"x":43,"v":85},{"t":50,"x":47,"v":20},{"t":50,"x":55,"v":6},{"t":50,"x":62,"v":8},{"t":50,"x":67,"v":20},{"t":50,"x":70,"v":80},{"t":50,"x":73,"v":25},{"t":50,"x":80,"v":6},{"t":50,"x":90,"v":4},{"t":50,"x":100,"v":3},
{"t":51,"x":0,"v":3},{"t":51,"x":10,"v":4},{"t":51,"x":18,"v":5},{"t":51,"x":22,"v":20},{"t":51,"x":25,"v":98},{"t":51,"x":28,"v":25},{"t":51,"x":33,"v":8},{"t":51,"x":45,"v":5},{"t":51,"x":60,"v":6},{"t":51,"x":75,"v":4},{"t":51,"x":90,"v":5},{"t":51,"x":100,"v":3},
{"t":52,"x":0,"v":10},{"t":52,"x":5,"v":15},{"t":52,"x":10,"v":12},{"t":52,"x":15,"v":20},{"t":52,"x":18,"v":55},{"t":52,"x":21,"v":25},{"t":52,"x":26,"v":12},{"t":52,"x":32,"v":18},{"t":52,"x":40,"v":8},{"t":52,"x":48,"v":22},{"t":52,"x":55,"v":10},{"t":52,"x":62,"v":15},{"t":52,"x":70,"v":8},{"t":52,"x":78,"v":14},{"t":52,"x":85,"v":6},{"t":52,"x":92,"v":12},{"t":52,"x":100,"v":8},
{"t":53,"x":0,"v":95},{"t":53,"x":10,"v":94},{"t":53,"x":20,"v":92},{"t":53,"x":30,"v":88},{"t":53,"x":40,"v":82},{"t":53,"x":50,"v":74},{"t":53,"x":60,"v":64},{"t":53,"x":70,"v":50},{"t":53,"x":80,"v":36},{"t":53,"x":90,"v":20},{"t":53,"x":100,"v":5},
{"t":54,"x":0,"v":98},{"t":54,"x":2,"v":60},{"t":54,"x":4,"v":25},{"t":54,"x":6,"v":8},{"t":54,"x":10,"v":3},{"t":54,"x":20,"v":1},{"t":54,"x":40,"v":1},{"t":54,"x":70,"v":1},{"t":54,"x":100,"v":1},
{"t":55,"x":0,"v":5},{"t":55,"x":10,"v":6},{"t":55,"x":20,"v":5},{"t":55,"x":30,"v":8},{"t":55,"x":40,"v":6},{"t":55,"x":50,"v":10},{"t":55,"x":55,"v":8},{"t":55,"x":60,"v":15},{"t":55,"x":65,"v":10},{"t":55,"x":70,"v":30},{"t":55,"x":74,"v":15},{"t":55,"x":78,"v":45},{"t":55,"x":82,"v":20},{"t":55,"x":86,"v":50},{"t":55,"x":90,"v":25},{"t":55,"x":94,"v":40},{"t":55,"x":97,"v":20},{"t":55,"x":100,"v":35},
{"t":56,"x":0,"v":20},{"t":56,"x":4,"v":30},{"t":56,"x":8,"v":85},{"t":56,"x":12,"v":40},{"t":56,"x":16,"v":25},{"t":56,"x":20,"v":35},{"t":56,"x":24,"v":20},{"t":56,"x":28,"v":30},{"t":56,"x":32,"v":15},{"t":56,"x":36,"v":28},{"t":56,"x":40,"v":18},{"t":56,"x":45,"v":25},{"t":56,"x":50,"v":15},{"t":56,"x":55,"v":22},{"t":56,"x":60,"v":12},{"t":56,"x":65,"v":20},{"t":56,"x":70,"v":15},{"t":56,"x":75,"v":22},{"t":56,"x":80,"v":12},{"t":56,"x":85,"v":18},{"t":56,"x":90,"v":10},{"t":56,"x":95,"v":15},{"t":56,"x":100,"v":12},
{"t":57,"x":0,"v":60},{"t":57,"x":2,"v":95},{"t":57,"x":4,"v":40},{"t":57,"x":7,"v":20},{"t":57,"x":10,"v":12},{"t":57,"x":15,"v":8},{"t":57,"x":25,"v":6},{"t":57,"x":40,"v":5},{"t":57,"x":60,"v":5},{"t":57,"x":80,"v":4},{"t":57,"x":100,"v":5},
{"t":58,"x":0,"v":5},{"t":58,"x":2,"v":30},{"t":58,"x":4,"v":98},{"t":58,"x":6,"v":20},{"t":58,"x":9,"v":5},{"t":58,"x":15,"v":2},{"t":58,"x":30,"v":1},{"t":58,"x":60,"v":1},{"t":58,"x":100,"v":1},
{"t":59,"x":0,"v":1},{"t":59,"x":20,"v":1},{"t":59,"x":40,"v":1},{"t":59,"x":60,"v":2},{"t":59,"x":75,"v":3},{"t":59,"x":82,"v":10},{"t":59,"x":86,"v":35},{"t":59,"x":90,"v":60},{"t":59,"x":93,"v":40},{"t":59,"x":96,"v":15},{"t":59,"x":100,"v":5},
{"t":60,"x":0,"v":20},{"t":60,"x":4,"v":35},{"t":60,"x":8,"v":22},{"t":60,"x":12,"v":40},{"t":60,"x":16,"v":25},{"t":60,"x":20,"v":45},{"t":60,"x":24,"v":30},{"t":60,"x":28,"v":35},{"t":60,"x":32,"v":20},{"t":60,"x":36,"v":50},{"t":60,"x":40,"v":30},{"t":60,"x":44,"v":95},{"t":60,"x":48,"v":60},{"t":60,"x":52,"v":35},{"t":60,"x":56,"v":45},{"t":60,"x":60,"v":25},{"t":60,"x":64,"v":50},{"t":60,"x":68,"v":30},{"t":60,"x":72,"v":40},{"t":60,"x":76,"v":25},{"t":60,"x":80,"v":45},{"t":60,"x":84,"v":30},{"t":60,"x":88,"v":55},{"t":60,"x":92,"v":35},{"t":60,"x":96,"v":40},{"t":60,"x":100,"v":30},
{"t":61,"x":0,"v":10},{"t":61,"x":4,"v":25},{"t":61,"x":8,"v":12},{"t":61,"x":12,"v":30},{"t":61,"x":16,"v":15},{"t":61,"x":20,"v":20},{"t":61,"x":24,"v":10},{"t":61,"x":28,"v":35},{"t":61,"x":32,"v":15},{"t":61,"x":36,"v":25},{"t":61,"x":40,"v":10},{"t":61,"x":44,"v":30},{"t":61,"x":48,"v":15},{"t":61,"x":52,"v":40},{"t":61,"x":56,"v":20},{"t":61,"x":60,"v":30},{"t":61,"x":64,"v":85},{"t":61,"x":67,"v":25},{"t":61,"x":70,"v":35},{"t":61,"x":74,"v":15},{"t":61,"x":78,"v":30},{"t":61,"x":82,"v":12},{"t":61,"x":86,"v":40},{"t":61,"x":90,"v":20},{"t":61,"x":94,"v":30},{"t":61,"x":100,"v":15},
{"t":62,"x":0,"v":5},{"t":62,"x":5,"v":10},{"t":62,"x":10,"v":6},{"t":62,"x":15,"v":12},{"t":62,"x":20,"v":8},{"t":62,"x":25,"v":15},{"t":62,"x":30,"v":10},{"t":62,"x":35,"v":20},{"t":62,"x":40,"v":12},{"t":62,"x":44,"v":25},{"t":62,"x":47,"v":90},{"t":62,"x":50,"v":30},{"t":62,"x":55,"v":15},{"t":62,"x":60,"v":20},{"t":62,"x":65,"v":10},{"t":62,"x":70,"v":18},{"t":62,"x":75,"v":8},{"t":62,"x":80,"v":15},{"t":62,"x":85,"v":10},{"t":62,"x":90,"v":20},{"t":62,"x":95,"v":12},{"t":62,"x":100,"v":15},
{"t":63,"x":0,"v":20},{"t":63,"x":4,"v":45},{"t":63,"x":8,"v":30},{"t":63,"x":12,"v":40},{"t":63,"x":16,"v":20},{"t":63,"x":20,"v":30},{"t":63,"x":24,"v":15},{"t":63,"x":28,"v":35},{"t":63,"x":32,"v":20},{"t":63,"x":36,"v":30},{"t":63,"x":40,"v":10},{"t":63,"x":44,"v":40},{"t":63,"x":48,"v":25},{"t":63,"x":52,"v":55},{"t":63,"x":56,"v":35},{"t":63,"x":60,"v":65},{"t":63,"x":64,"v":30},{"t":63,"x":67,"v":75},{"t":63,"x":70,"v":100},{"t":63,"x":73,"v":40},{"t":63,"x":77,"v":55},{"t":63,"x":81,"v":30},{"t":63,"x":85,"v":60},{"t":63,"x":89,"v":35},{"t":63,"x":93,"v":45},{"t":63,"x":97,"v":60},{"t":63,"x":100,"v":35}
]
},
"columns":5,
"spacing":0,
"bounds":"flush",
"align":"each",
"concat":[
{"width":15,"height":15,"mark":{"type":"point","opacity":0},"encoding":{},"view":{"fill":"#d7d7d9","stroke":null}},
{"width":118,"height":15,"mark":{"type":"point","opacity":0},"encoding":{},"view":{"fill":"#d7d7d9","stroke":null}},
{"width":780.9,"height":15,"mark":{"type":"point","opacity":0},"encoding":{},"view":{"fill":"#d7d7d9","stroke":null}},
{"width":59.1,"height":15,"mark":{"type":"point","opacity":0},"encoding":{},"view":{"fill":"#d7d7d9","stroke":null}},
{"width":15,"height":15,"mark":{"type":"point","opacity":0},"encoding":{},"view":{"fill":"#d7d7d9","stroke":null}},
{"width":15,"height":49,"mark":{"type":"point","opacity":0},"encoding":{},"view":{"fill":"#d7d7d9","stroke":null}},
{"width":118,"height":49,"mark":{"type":"point","opacity":0},"encoding":{}},
{"width":780.9,"height":49,"mark":{"type":"point","opacity":0},"encoding":{}},
{"width":59.1,"height":49,"mark":{"type":"point","opacity":0},"encoding":{}},
{"width":15,"height":49,"mark":{"type":"point","opacity":0},"encoding":{},"view":{"fill":"#d7d7d9","stroke":null}},
{"width":15,"height":871.5,"mark":{"type":"point","opacity":0},"encoding":{},"view":{"fill":"#d7d7d9","stroke":null}},
{"width":118,"height":871.5,"mark":{"type":"point","opacity":0},"encoding":{}},
{
 "data":{"name":"s"},
 "transform":[{"lookup":"t","from":{"data":{"name":"tags"},"key":"t","fields":["tag","d","k","hs","he","px","mx","av","tot","rel"]}}],
 "facet":{"field":"t","type":"ordinal","header":{"title":null,"labels":false,"labelExpr":"''","labelFontSize":0,"labelColor":"rgba(0,0,0,0)","labelPadding":0}},
 "columns":4,
 "spacing":{"row":35.7,"column":100.3},
 "bounds":"flush",
 "resolve":{"axis":{"x":"independent","y":"independent"}},
 "spec":{
  "width":120,"height":21,
  "view":{"stroke":"#e3e3e3","strokeWidth":0.5},
  "layer":[
   {"mark":{"type":"area","interpolate":"monotone"},
    "encoding":{
     "x":{"field":"x","type":"quantitative","scale":{"domain":[0,100],"nice":false,"zero":false},"axis":{"title":null,"values":[25,50,75,100],"grid":true,"gridDash":[1,1],"gridColor":"#d4d4d4","gridWidth":0.5,"domain":false,"ticks":false,"labelFontSize":2.3,"labelColor":"#999","labelPadding":0.8,"labelExpr":"'0' + (datum.value / 25 + 4) + '/11'"}},
     "y":{"field":"v","type":"quantitative","scale":{"domain":[0,100],"nice":false,"zero":false},"axis":{"title":null,"values":[0,25,50,75,100],"grid":true,"gridColor":"#ebebeb","gridWidth":0.5,"domain":false,"ticks":false,"labelFontSize":2.1,"labelColor":"#aaa","labelPadding":0.8,"labelExpr":"datum.value / 10"}},
     "fill":{"field":"k","type":"nominal","scale":{"domain":["g","b","p","o"],"range":["#eef6cc","#d6f0fb","#ebdff7","#fdf0c4"]},"legend":null}}},
   {"transform":[{"filter":"datum.he > datum.hs && datum.x >= datum.hs && datum.x <= datum.he"}],
    "mark":{"type":"area","interpolate":"monotone","color":"#f8836c","opacity":0.9},
    "encoding":{"x":{"field":"x","type":"quantitative","axis":null},"y":{"field":"v","type":"quantitative","axis":null}}},
   {"transform":[{"filter":"datum.x === 0"}],
    "mark":{"type":"rule","color":"#f27b74","strokeWidth":0.6},
    "encoding":{"x":{"datum":0,"axis":null},"x2":{"datum":100},"y":{"field":"av","type":"quantitative","axis":null}}},
   {"mark":{"type":"line","interpolate":"monotone","strokeWidth":0.85},
    "encoding":{"x":{"field":"x","type":"quantitative","scale":{"domain":[0,100],"nice":false,"zero":false},"axis":null},"y":{"field":"v","type":"quantitative","scale":{"domain":[0,100],"nice":false,"zero":false},"axis":null},
     "stroke":{"field":"k","type":"nominal","scale":{"domain":["g","b","p","o"],"range":["#66b520","#25b1ea","#9c5fd6","#f6a40f"]},"legend":null}}},
   {"transform":[{"filter":"datum.x === 0"},{"calculate":"'Max: ' + datum.mx","as":"ml"}],
    "mark":{"type":"text","fontSize":2.6,"fontWeight":"bold","color":"#e5261f","baseline":"middle"},
    "encoding":{"x":{"field":"px","type":"quantitative","axis":null},"y":{"datum":104.5,"axis":null},"text":{"field":"ml"}}},
   {"transform":[{"filter":"datum.x === 0"},{"calculate":"'Total: ' + datum.tot + ' | Average: ' + format(datum.tot / 30, '.1f') + ' | Median: ' + floor(datum.tot / 60 + 1)","as":"it"}],
    "mark":{"type":"text","fontSize":2.2,"color":"#aaa","align":"right","baseline":"middle"},
    "encoding":{"x":{"datum":100,"axis":null},"y":{"datum":114.3,"axis":null},"text":{"field":"it"}}},
   {"transform":[{"filter":"datum.x === 0"},{"calculate":"'Tag ' + datum.tag","as":"ttl"}],
    "mark":{"type":"text","fontSize":4.6,"fontWeight":"bold","color":"#111","align":"left","baseline":"middle"},
    "encoding":{"x":{"datum":-53.3,"axis":null},"y":{"datum":134.8,"axis":null},"text":{"field":"ttl"}}},
   {"transform":[{"filter":"datum.x === 0"}],
    "mark":{"type":"point","shape":"circle","size":361,"strokeWidth":4,"filled":true,"fill":"white","opacity":1},
    "encoding":{"x":{"datum":-42.9,"axis":null},"y":{"datum":40.5,"axis":null},"stroke":{"field":"d","type":"nominal","legend":null}}},
   {"transform":[{"filter":"datum.x === 0"}],
    "mark":{"type":"point","shape":"circle","size":361,"filled":false,"stroke":"white","strokeWidth":1.3,"strokeDash":[0.8,1.2],"opacity":0.5},
    "encoding":{"x":{"datum":-42.9,"axis":null},"y":{"datum":40.5,"axis":null}}},
   {"transform":[{"filter":"datum.x === 0"}],
    "mark":{"type":"point","shape":"circle","size":100,"filled":false,"stroke":"#555","strokeWidth":0.9,"opacity":1},
    "encoding":{"x":{"datum":-42.9,"axis":null},"y":{"datum":40.5,"axis":null}}},
   {"transform":[{"filter":"datum.x === 0"}],
    "mark":{"type":"text","fontSize":2,"color":"#888","baseline":"middle"},
    "encoding":{"x":{"datum":-42.9,"axis":null},"y":{"datum":40.5,"axis":null},"text":{"field":"tot"}}},
   {"transform":[{"filter":"datum.x === 0"}],
    "mark":{"type":"text","fontSize":2.6,"color":"#333","baseline":"middle","text":"View Tweets"},
    "encoding":{"x":{"datum":-42.9,"axis":null},"y":{"datum":-33.3,"axis":null}}},
   {"transform":[{"filter":"datum.x === 0"}],
    "mark":{"type":"rule","color":"#d0d0d0","strokeWidth":0.5},
    "encoding":{"x":{"datum":-4.2,"axis":null},"y":{"datum":104.8,"axis":null},"y2":{"datum":-38.1}}},
   {"transform":[{"filter":"datum.x === 0"}],
    "mark":{"type":"text","fontSize":2.6,"fontWeight":"bold","color":"#222","align":"left","baseline":"middle","text":"Top related tags"},
    "encoding":{"x":{"datum":-26.7,"axis":null},"y":{"datum":95.2,"axis":null}}},
   {"transform":[{"filter":"datum.x === 0"}],
    "mark":{"type":"text","fontSize":2.7,"lineHeight":2.85,"color":"#1f4fa8","align":"left","baseline":"top"},
    "encoding":{"x":{"datum":-26.7,"axis":null},"y":{"datum":87.6,"axis":null},"text":{"field":"rel"}}},
   {"transform":[{"filter":"datum.x === 0"}],
    "mark":{"type":"text","fontSize":2.4,"color":"#444","align":"left","baseline":"middle","text":"Compare related:"},
    "encoding":{"x":{"datum":1.7,"axis":null},"y":{"datum":-35.7,"axis":null}}},
   {"transform":[{"filter":"datum.x === 0"}],"mark":{"type":"rect","fill":"white","stroke":"#cfcfcf","strokeWidth":0.4},
    "encoding":{"x":{"datum":15.8,"axis":null},"x2":{"datum":34.2},"y":{"datum":-27.9,"axis":null},"y2":{"datum":-43.6}}},
   {"transform":[{"filter":"datum.x === 0"}],"mark":{"type":"rect","fill":"white","stroke":"#cfcfcf","strokeWidth":0.4},
    "encoding":{"x":{"datum":35.4,"axis":null},"x2":{"datum":53.3},"y":{"datum":-27.9,"axis":null},"y2":{"datum":-43.6}}},
   {"transform":[{"filter":"datum.x === 0"}],"mark":{"type":"rect","fill":"white","stroke":"#cfcfcf","strokeWidth":0.4},
    "encoding":{"x":{"datum":54.2,"axis":null},"x2":{"datum":72.5},"y":{"datum":-27.9,"axis":null},"y2":{"datum":-43.6}}},
   {"transform":[{"filter":"datum.x === 0"}],"mark":{"type":"rect","fill":"white","stroke":"#cfcfcf","strokeWidth":0.4},
    "encoding":{"x":{"datum":73.8,"axis":null},"x2":{"datum":92.1},"y":{"datum":-27.9,"axis":null},"y2":{"datum":-43.6}}},
   {"transform":[{"filter":"datum.x === 0"}],"mark":{"type":"text","fontSize":2.3,"color":"#555","align":"left","baseline":"middle","text":"none"},
    "encoding":{"x":{"datum":16.8,"axis":null},"y":{"datum":-35.7,"axis":null}}},
   {"transform":[{"filter":"datum.x === 0"}],"mark":{"type":"text","fontSize":2.3,"color":"#555","align":"left","baseline":"middle","text":"none"},
    "encoding":{"x":{"datum":36.4,"axis":null},"y":{"datum":-35.7,"axis":null}}},
   {"transform":[{"filter":"datum.x === 0"}],"mark":{"type":"text","fontSize":2.3,"color":"#555","align":"left","baseline":"middle","text":"none"},
    "encoding":{"x":{"datum":55.2,"axis":null},"y":{"datum":-35.7,"axis":null}}},
   {"transform":[{"filter":"datum.x === 0"}],"mark":{"type":"text","fontSize":2.3,"color":"#555","align":"left","baseline":"middle","text":"none"},
    "encoding":{"x":{"datum":74.8,"axis":null},"y":{"datum":-35.7,"axis":null}}},
   {"transform":[{"filter":"datum.x === 0"}],"mark":{"type":"rect","fill":"#8d8d8d","stroke":"#666","strokeWidth":0.3,"cornerRadius":0.8},
    "encoding":{"x":{"datum":94.2,"axis":null},"x2":{"datum":100},"y":{"datum":-27.9,"axis":null},"y2":{"datum":-43.6}}},
   {"transform":[{"filter":"datum.x === 0"}],"mark":{"type":"text","fontSize":2.4,"fontWeight":"bold","color":"#111","baseline":"middle","text":"Go"},
    "encoding":{"x":{"datum":97.1,"axis":null},"y":{"datum":-35.7,"axis":null}}}
  ]
 }
},
{"width":59.1,"height":871.5,"mark":{"type":"point","opacity":0},"encoding":{}},
{"width":15,"height":871.5,"mark":{"type":"point","opacity":0},"encoding":{},"view":{"fill":"#d7d7d9","stroke":null}},
{"width":15,"height":67.5,"mark":{"type":"point","opacity":0},"encoding":{},"view":{"fill":"#d7d7d9","stroke":null}},
{"width":118,"height":67.5,"mark":{"type":"point","opacity":0},"encoding":{}},
{"width":780.9,"height":67.5,"mark":{"type":"point","opacity":0},"encoding":{}},
{"width":59.1,"height":67.5,"mark":{"type":"point","opacity":0},"encoding":{}},
{"width":15,"height":67.5,"mark":{"type":"point","opacity":0},"encoding":{},"view":{"fill":"#d7d7d9","stroke":null}},
{"width":15,"height":14,"mark":{"type":"point","opacity":0},"encoding":{},"view":{"fill":"#d7d7d9","stroke":null}},
{"width":118,"height":14,"mark":{"type":"point","opacity":0},"encoding":{},"view":{"fill":"#d7d7d9","stroke":null}},
{"width":780.9,"height":14,"mark":{"type":"point","opacity":0},"encoding":{},"view":{"fill":"#d7d7d9","stroke":null}},
{"width":59.1,"height":14,"mark":{"type":"point","opacity":0},"encoding":{},"view":{"fill":"#d7d7d9","stroke":null}},
{"width":15,"height":14,"mark":{"type":"point","opacity":0},"encoding":{},"view":{"fill":"#d7d7d9","stroke":null}}
]
}
